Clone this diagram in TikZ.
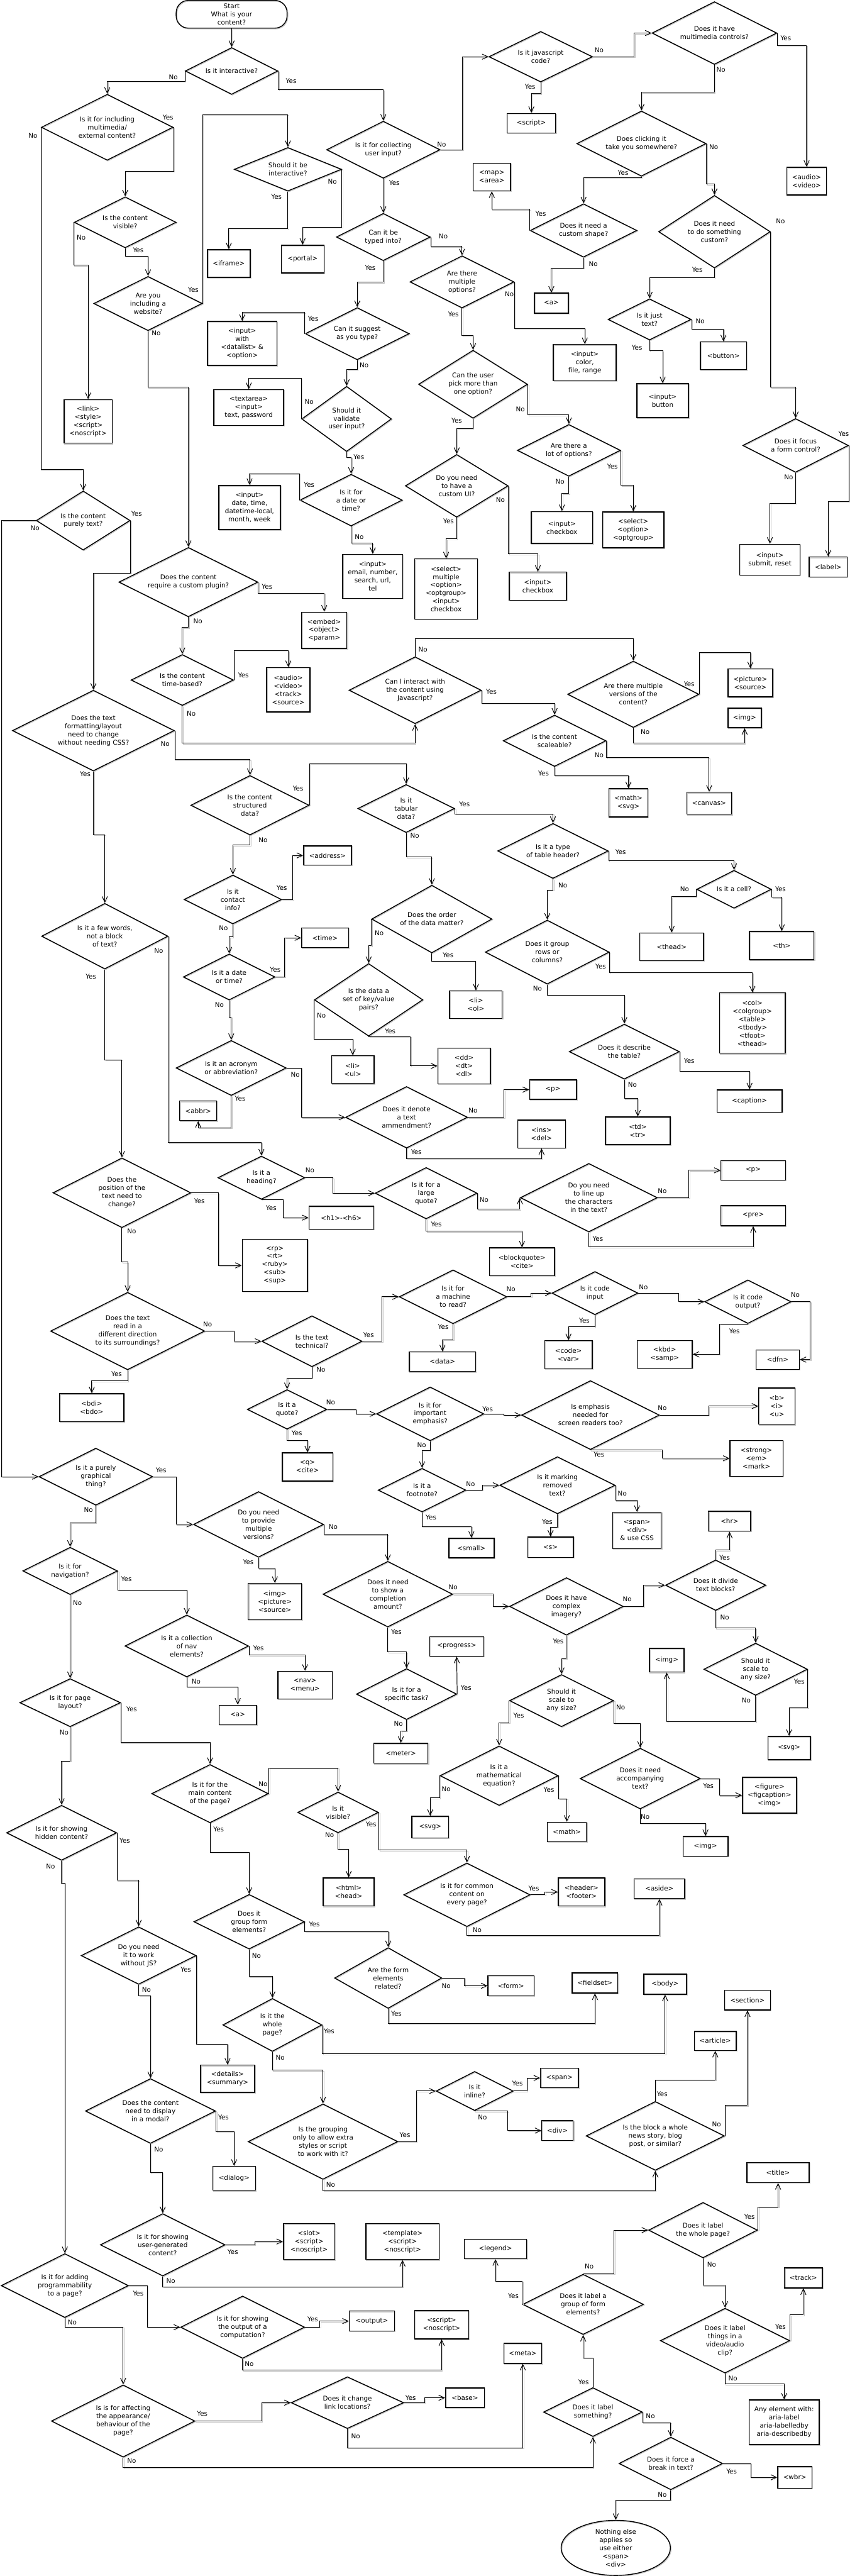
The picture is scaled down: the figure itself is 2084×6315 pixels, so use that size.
\documentclass[tikz,border=0pt]{standalone}
\usepackage{fontspec}
\setmainfont{DejaVu Sans}
\usepackage{tikz}
\usetikzlibrary{shapes.geometric}
\usetikzlibrary{arrows.meta}

\begin{document}
\begin{tikzpicture}[x=1pt, y=-1pt, every node/.style={font=\fontsize{16}{20}\selectfont},
	shade line/.style={preaction={draw, gray!45, transform canvas={shift={(1.8pt,-1.8pt)}}}},
	dia/.style 2 args={draw, diamond, aspect=2, inner sep=0pt, align=center, line width=2.2pt, shade line, minimum width=#1, minimum height=#2},
	box/.style 2 args={draw, rectangle, inner sep=2pt, align=center, line width=2.2pt, shade line, minimum width=#1, minimum height=#2},
	arr/.style={line width=1.5pt, shade line, -{Straight Barb[length=14pt, width=13pt]}},
	lbl/.style={inner sep=0pt}]
	\useasboundingbox (0,0) rectangle (2084,6315);

	\node[draw, rounded corners=30pt, minimum width=272, minimum height=68, inner sep=2pt, align=center, line width=2.2pt, shade line] (start) at (568,35) {Start\\What is your\\content?};
	\node[dia={227}{115}] (interactive) at (568,174) {Is it interactive?};
	\node[dia={323}{162}] (media) at (263,312) {Is it for including\\multimedia/\\external content?};
	\node[dia={250}{125}] (visible) at (307,545) {Is the content\\visible?};
	\node[dia={266}{133}] (website) at (363,744) {Are you\\including a\\website?};
	\node[dia={263}{107}] (shouldint) at (706,415) {Should it be\\interactive?};
	\node[dia={278}{140}] (collect) at (940,367) {Is it for collecting\\user input?};
	\node[dia={254}{124}] (jscode) at (1326,139) {Is it javascript\\code?};
	\node[dia={306}{154}] (controls) at (1752,81) {Does it have\\multimedia controls?};
	\node[dia={317}{160}] (click) at (1573,352) {Does clicking it\\take you somewhere?};
	\node[dia={262}{131}] (shape) at (1431,565) {Does it need a\\custom shape?};
	\node[dia={274}{178}] (custom) at (1752,568) {Does it need\\to do something\\custom?};
	\node[dia={230}{116}] (typed) at (940,581) {Can it be\\typed into?};
	\node[dia={255}{128}] (multi) at (1133,691) {Are there\\multiple\\options?};
	\node[dia={204}{101}] (justtext) at (1593,783) {Is it just\\text?};
	\node[dia={255}{128}] (suggest) at (876,818) {Can it suggest\\as you type?};
	\node[dia={220}{160}] (validate) at (850,1027) {Should it\\validate\\user input?};
	\node[dia={267}{167}] (pickmore) at (1160,942) {Can the user\\pick more than\\one option?};
	\node[dia={253}{127}] (lots) at (1395,1104) {Are there a\\lot of options?};
	\node[dia={259}{132}] (focus) at (1951,1092) {Does it focus\\a form control?};
	\node[dia={251}{127}] (datetime) at (861,1226) {Is it for\\a date or\\time?};
	\node[dia={252}{154}] (customui) at (1120,1191) {Do you need\\to have a\\custom UI?};
	\node[dia={230}{145}] (puretext) at (204,1276) {Is the content\\purely text?};
	\node[dia={341}{170}] (plugin) at (462,1427) {Does the content\\require a custom plugin?};
	\node[dia={251}{125}] (timebased) at (447,1667) {Is the content\\time-based?};
	\node[dia={324}{164}] (interact) at (1018,1692) {Can I interact with\\the content using\\Javascript?};
	\node[dia={322}{163}] (versions) at (1553,1702) {Are there multiple\\versions of the\\content?};
	\node[dia={252}{126}] (scale) at (1360,1816) {Is the content\\scaleable?};
	\node[dia={397}{198}] (format) at (229,1791) {Does the text\\formatting/layout\\need to change\\without needing CSS?};
	\node[dia={290}{146}] (structured) at (613,1974) {Is the content\\structured\\data?};
	\node[dia={237}{118}] (tabular) at (996,1982) {Is it\\tabular\\data?};
	\node[dia={271}{135}] (header) at (1356,2086) {Is it a type\\of table header?};
	\node[dia={183}{93}] (cell) at (1800,2180) {Is it a cell?};
	\node[dia={304}{157}] (group) at (1342,2334) {Does it group\\rows or\\columns?};
	\node[dia={270}{135}] (describe) at (1531,2578) {Does it describe\\the table?};
	\node[dia={295}{166}] (order) at (1059,2253) {Does the order\\of the data matter?};
	\node[dia={266}{178}] (keyvalue) at (904,2451) {Is the data a\\set of key/value\\pairs?};
	\node[dia={239}{120}] (contact) at (571,2205) {Is it\\contact\\info?};
	\node[dia={225}{113}] (date2) at (562,2395) {Is it a date\\or time?};
	\node[dia={310}{161}] (fewwords) at (257,2295) {Is it a few words,\\not a block\\of text?};
	\node[dia={270}{135}] (acronym) at (567,2618) {Is it an acronym\\or abbreviation?};
	\node[dia={299}{151}] (amend) at (997,2739) {Does it denote\\a text\\ammendment?};
	\node[dia={213}{106}] (heading) at (641,2887) {Is it a\\heading?};
	\node[dia={250}{126}] (largequote) at (1045,2925) {Is it for a\\large\\quote?};
	\node[dia={336}{168}] (lineup) at (1444,2936) {Do you need\\to line up\\the characters\\in the text?};
	\node[dia={338}{171}] (position) at (299,2924) {Does the\\position of the\\text need to\\change?};
	\node[dia={378}{190}] (direction) at (313,3263) {Does the text\\read in a\\different direction\\to its surroundings?};
	\node[dia={246}{125}] (technical) at (765,3288) {Is the text\\technical?};
	\node[dia={264}{132}] (machine) at (1111,3179) {Is it for\\a machine\\to read?};
	\node[dia={211}{106}] (codein) at (1459,3170) {Is it code\\input};
	\node[dia={212}{107}] (codeout) at (1834,3191) {Is it code\\output?};
	\node[dia={195}{97}] (isquote) at (704,3455) {Is it a\\quote?};
	\node[dia={263}{132}] (emph) at (1055,3466) {Is it for\\important\\emphasis?};
	\node[dia={338}{169}] (screen) at (1448,3469) {Is emphasis\\needed for\\screen readers too?};
	\node[dia={279}{140}] (graphical) at (235,3620) {Is it a purely\\graphical\\thing?};
	\node[dia={215}{107}] (footnote) at (1035,3653) {Is it a\\footnote?};
	\node[dia={283}{140}] (removed) at (1367,3641) {Is it marking\\removed\\text?};
	\node[dia={319}{161}] (provide) at (634,3737) {Do you need\\to provide\\multiple\\versions?};
	\node[dia={318}{161}] (completion) at (951,3908) {Does it need\\to show a\\completion\\amount?};
	\node[dia={246}{125}] (task) at (997,4153) {Is it for a\\specific task?};
	\node[dia={279}{141}] (complex) at (1389,3938) {Does it have\\complex\\imagery?};
	\node[dia={246}{124}] (divide) at (1755,3886) {Does it divide\\text blocks?};
	\node[dia={254}{128}] (scaleR) at (1853,4092) {Should it\\scale to\\any size?};
	\node[dia={255}{128}] (scaleL) at (1377,4169) {Should it\\scale to\\any size?};
	\node[dia={232}{116}] (nav) at (172,3851) {Is it for\\navigation?};
	\node[dia={303}{152}] (navcoll) at (458,4035) {Is it a collection\\of nav\\elements?};
	\node[dia={247}{118}] (layout) at (172,4174) {Is it for page\\layout?};
	\node[dia={286}{143}] (main) at (515,4397) {Is it for the\\main content\\of the page?};
	\node[dia={198}{100}] (isvisible) at (829,4443) {Is it\\visible?};
	\node[dia={310}{156}] (common) at (1145,4645) {Is it for common\\content on\\every page?};
	\node[dia={290}{146}] (matheq) at (1224,4353) {Is it a\\mathematical\\equation?};
	\node[dia={295}{149}] (accomp) at (1570,4360) {Does it need\\accompanying\\text?};
	\node[dia={270}{135}] (hidden) at (151,4493) {Is it for showing\\hidden content?};
	\node[dia={271}{134}] (formgrp) at (611,4711) {Does it\\group form\\elements?};
	\node[dia={263}{149}] (related) at (952,4849) {Are the form\\elements\\related?};
	\node[dia={243}{130}] (wholepage) at (668,4964) {Is it the\\whole\\page?};
	\node[dia={282}{141}] (nojs) at (340,4794) {Do you need\\it to work\\without JS?};
	\node[dia={319}{159}] (modal) at (369,5175) {Does the content\\need to display\\in a modal?};
	\node[dia={189}{96}] (inline) at (1164,5126) {Is it\\inline?};
	\node[dia={339}{169}] (article) at (1607,5236) {Is the block a whole\\news story, blog\\post, or similar?};
	\node[dia={367}{185}] (grouping) at (792,5250) {Is the grouping\\only to allow extra\\styles or script\\to work with it?};
	\node[dia={306}{153}] (ugc) at (399,5503) {Is it for showing\\user-generated\\content?};
	\node[dia={267}{136}] (labelpage) at (1724,5467) {Does it label\\the whole page?};
	\node[dia={296}{148}] (labelgroup) at (1430,5649) {Does it label a\\group of form\\elements?};
	\node[dia={317}{159}] (labelclip) at (1778,5738) {Does it label\\things in a\\video/audio\\clip?};
	\node[dia={312}{157}] (program) at (159,5603) {Is it for adding\\programmability\\to a page?};
	\node[dia={304}{153}] (output) at (595,5705) {Is it for showing\\the output of a\\computation?};
	\node[dia={352}{177}] (affect) at (302,5935) {Is is for affecting\\the appearance/\\behaviour of the\\page?};
	\node[dia={276}{127}] (link) at (852,5890) {Does it change\\link locations?};
	\node[dia={242}{120}] (labelsth) at (1454,5913) {Does it label\\something?};
	\node[dia={254}{129}] (forcebreak) at (1645,6039) {Does it force a\\break in text?};
	\node[draw, ellipse, inner sep=0pt, align=center, line width=2.2pt, shade line, minimum width=268, minimum height=135] (finish) at (1510,6246) {Nothing else\\applies so\\use either\\<span>\\<div>};

	\node[box={119}{48}] (b_script) at (1303,302) {<script>};
	\node[box={97}{68}] (b_audio) at (1978,444) {<audio>\\<video>};
	\node[box={92}{68}] (b_map) at (1206,434) {<map>\\<area>};
	\node[box={118}{107}] (b_link) at (216,1033) {<link>\\<style>\\<script>\\<noscript>};
	\node[box={105}{68}] (b_iframe) at (561,646) {<iframe>};
	\node[box={105}{68}] (b_portal) at (742,635) {<portal>};
	\node[box={83}{49}] (b_a) at (1352,743) {<a>};
	\node[box={113}{68}] (b_button) at (1774,872) {<button>};
	\node[box={127}{83}] (b_inbutton) at (1625,982) {<input>\\button};
	\node[box={154}{89}] (b_color) at (1434,889) {<input>\\color,\\file, range};
	\node[box={170}{108}] (b_datalist) at (594,842) {<input>\\with\\<datalist> \&\\<option>};
	\node[box={171}{88}] (b_textarea) at (610,999) {<textarea>\\<input>\\text, password};
	\node[box={151}{78}] (b_check1) at (1378,1293) {<input>\\checkbox};
	\node[box={150}{88}] (b_select) at (1553,1299) {<select>\\<option>\\<optgroup>};
	\node[box={148}{76}] (b_submit) at (1888,1372) {<input>\\submit, reset};
	\node[box={93}{49}] (b_label) at (2031,1390) {<label>};
	\node[box={151}{108}] (b_date) at (612,1244) {<input>\\date, time,\\datetime-local,\\month, week};
	\node[box={147}{108}] (b_email) at (914,1413) {<input>\\email, number,\\search, url,\\tel};
	\node[box={154}{148}] (b_multiple) at (1094,1444) {<select>\\multiple\\<option>\\<optgroup>\\<input>\\checkbox};
	\node[box={140}{69}] (b_check2) at (1319,1437) {<input>\\checkbox};
	\node[box={111}{89}] (b_embed) at (795,1545) {<embed>\\<object>\\<param>};
	\node[box={106}{109}] (b_avts) at (707,1691) {<audio>\\<video>\\<track>\\<source>};
	\node[box={109}{69}] (b_picture) at (1840,1674) {<picture>\\<source>};
	\node[box={82}{48}] (b_img1) at (1826,1760) {<img>};
	\node[box={95}{69}] (b_mathsvg) at (1541,1968) {<math>\\<svg>};
	\node[box={110}{54}] (b_canvas) at (1739,1969) {<canvas>};
	\node[box={117}{47}] (b_address) at (803,2097) {<address>};
	\node[box={157}{68}] (b_thead) at (1647,2321) {<thead>};
	\node[box={158}{69}] (b_th) at (1917,2318) {<th>};
	\node[box={161}{148}] (b_col) at (1845,2508) {<col>\\<colgroup>\\<table>\\<tbody>\\<tfoot>\\<thead>};
	\node[box={129}{68}] (b_ol) at (1167,2463) {<li>\\<ol>};
	\node[box={104}{68}] (b_ul) at (865,2622) {<li>\\<ul>};
	\node[box={129}{88}] (b_dl) at (1138,2613) {<dd>\\<dt>\\<dl>};
	\node[box={115}{48}] (b_time) at (797,2299) {<time>};
	\node[box={91}{48}] (b_abbr) at (486,2723) {<abbr>};
	\node[box={115}{48}] (b_p1) at (1356,2671) {<p>};
	\node[box={117}{68}] (b_insdel) at (1328,2780) {<ins>\\<del>};
	\node[box={160}{55}] (b_caption) at (1838,2699) {<caption>};
	\node[box={159}{68}] (b_tdtr) at (1564,2772) {<td>\\<tr>};
	\node[box={159}{56}] (b_hn) at (837,2985) {<h1>-<h6>};
	\node[box={158}{48}] (b_p2) at (1847,2869) {<p>};
	\node[box={158}{49}] (b_pre) at (1847,2980) {<pre>};
	\node[box={160}{68}] (b_blockquote) at (1280,3093) {<blockquote>\\<cite>};
	\node[box={160}{128}] (b_ruby) at (674,3102) {<rp>\\<rt>\\<ruby>\\<sub>\\<sup>};
	\node[box={158}{69}] (b_bdi) at (225,3451) {<bdi>\\<bdo>};
	\node[box={163}{48}] (b_data) at (1085,3338) {<data>};
	\node[box={117}{69}] (b_code) at (1394,3321) {<code>\\<var>};
	\node[box={135}{68}] (b_kbd) at (1630,3320) {<kbd>\\<samp>};
	\node[box={106}{48}] (b_dfn) at (1907,3333) {<dfn>};
	\node[box={124}{69}] (b_q) at (754,3596) {<q>\\<cite>};
	\node[box={89}{89}] (b_biu) at (1905,3447) {<b>\\<i>\\<u>};
	\node[box={130}{88}] (b_strong) at (1855,3575) {<strong>\\<em>\\<mark>};
	\node[box={111}{48}] (b_small) at (1156,3795) {<small>};
	\node[box={112}{50}] (b_s) at (1350,3793) {<s>};
	\node[box={119}{89}] (b_spandiv) at (1562,3752) {<span>\\<div>\\\& use CSS};
	\node[box={131}{89}] (b_imgpic) at (674,3926) {<img>\\<picture>\\<source>};
	\node[box={133}{48}] (b_progress) at (1120,4036) {<progress>};
	\node[box={133}{49}] (b_meter) at (983,4298) {<meter>};
	\node[box={104}{49}] (b_hr) at (1789,3729) {<hr>};
	\node[box={85}{58}] (b_img2) at (1635,4070) {<img>};
	\node[box={104}{57}] (b_svg2) at (1935,4285) {<svg>};
	\node[box={133}{68}] (b_nav) at (748,4131) {<nav>\\<menu>};
	\node[box={92}{48}] (b_a2) at (583,4204) {<a>};
	\node[box={125}{69}] (b_html) at (855,4638) {<html>\\<head>};
	\node[box={114}{69}] (b_header) at (1426,4638) {<header>\\<footer>};
	\node[box={124}{48}] (b_aside) at (1617,4630) {<aside>};
	\node[box={90}{53}] (b_svg3) at (1055,4479) {<svg>};
	\node[box={96}{48}] (b_math2) at (1390,4491) {<math>};
	\node[box={133}{88}] (b_figure) at (1887,4401) {<figure>\\<figcaption>\\<img>};
	\node[box={110}{48}] (b_img3) at (1730,4526) {<img>};
	\node[box={113}{49}] (b_form) at (1253,4868) {<form>};
	\node[box={112}{49}] (b_fieldset) at (1459,4861) {<fieldset>};
	\node[box={105}{49}] (b_body) at (1631,4864) {<body>};
	\node[box={112}{49}] (b_section) at (1833,4903) {<section>};
	\node[box={103}{47}] (b_article) at (1754,5003) {<article>};
	\node[box={133}{67}] (b_details) at (558,5096) {<details>\\<summary>};
	\node[box={93}{48}] (b_span2) at (1372,5094) {<span>};
	\node[box={77}{48}] (b_div2) at (1367,5223) {<div>};
	\node[box={105}{59}] (b_dialog) at (574,5340) {<dialog>};
	\node[box={153}{49}] (b_title) at (1908,5326) {<title>};
	\node[box={126}{88}] (b_slot) at (758,5495) {<slot>\\<script>\\<noscript>};
	\node[box={180}{88}] (b_template) at (987,5495) {<template>\\<script>\\<noscript>};
	\node[box={153}{48}] (b_legend) at (1215,5513) {<legend>};
	\node[box={93}{49}] (b_track) at (1970,5584) {<track>};
	\node[box={111}{49}] (b_output) at (912,5690) {<output>};
	\node[box={133}{69}] (b_script2) at (1083,5699) {<script>\\<noscript>};
	\node[box={93}{49}] (b_meta) at (1282,5769) {<meta>};
	\node[box={95}{48}] (b_base) at (1140,5878) {<base>};
	\node[box={172}{109}] (b_aria) at (1923,5938) {Any element with:\\aria-label\\aria-labelledby\\aria-describedby};
	\node[box={84}{53}] (b_wbr) at (1949,6073) {<wbr>};

	\draw[arr] (start) -- (interactive);
	\draw[arr] (interactive.west) -- (interactive.west |- 0,199) -| (media.north);
	\node[lbl] (n_interactive) at (425,190) {No};
	\draw[arr] (interactive.east) -- (interactive.east |- 0,220) -| (collect.north);
	\node[lbl] (y_interactive) at (714,199) {Yes};
	\draw[arr] (media.east) -- (media.east |- 0,420) -| (visible.north);
	\node[lbl] (y_media) at (412,288) {Yes};
	\draw[arr] (media.west) -- (media.west |- 0,1151) -| (puretext.north);
	\node[lbl] (n_media) at (81,332) {No};
	\draw[arr] (visible.west) -- (visible.west |- 0,650) -| (b_link.north);
	\node[lbl] (n_visible) at (199,582) {No};
	\draw[arr] (visible.south) -- (visible.south |- 0,628) -| (website.north);
	\node[lbl] (y_visible) at (339,614) {Yes};
	\draw[arr] (website.east) -- (website.east |- 0,281) -| (shouldint.north);
	\node[lbl] (y_website) at (474,711) {Yes};
	\draw[arr] (website.south) -- (website.south |- 0,949) -| (plugin.north);
	\node[lbl] (n_website) at (383,817) {No};
	\draw[arr] (shouldint.south) -- (shouldint.south |- 0,561) -| (b_iframe.north);
	\node[lbl] (y_shouldint) at (678,482) {Yes};
	\draw[arr] (shouldint.east) -- (shouldint.east |- 0,557) -| (b_portal.north);
	\node[lbl] (n_shouldint) at (815,446) {No};
	\draw[arr] (collect.east) -- (collect.east -| 1134,0) |- (jscode.west);
	\node[lbl] (n_collect) at (1083,355) {No};
	\draw[arr] (collect) -- (typed);
	\node[lbl] (y_collect) at (967,448) {Yes};
	\draw[arr] (jscode.east) -- (jscode.east -| 1555,0) |- (controls.west);
	\node[lbl] (n_jscode) at (1469,123) {No};
	\draw[arr] (jscode.south) -- (jscode.south |- 0,229) -| (b_script.north);
	\node[lbl] (y_jscode) at (1300,212) {Yes};
	\draw[arr] (controls.east) -- (controls.east |- 0,111) -| (b_audio.north);
	\node[lbl] (y_controls) at (1927,93) {Yes};
	\draw[arr] (controls.south) -- (controls.south |- 0,226) -| (click.north);
	\node[lbl] (n_controls) at (1768,171) {No};
	\draw[arr] (click.south) -- (click.south |- 0,435) -| (shape.north);
	\node[lbl] (y_click) at (1528,424) {Yes};
	\draw[arr] (click.east) -- (click.east |- 0,451) -| (custom.north);
	\node[lbl] (n_click) at (1750,361) {No};
	\draw[arr] (shape.west) -- (shape.west |- 0,513) -| (b_map.south);
	\node[lbl] (y_shape) at (1326,524) {Yes};
	\draw[arr] (shape.south) -- (shape.south |- 0,657) -| (b_a.north);
	\node[lbl] (n_shape) at (1455,647) {No};
	\draw[arr] (custom.south) -- (custom.south |- 0,681) -| (justtext.north);
	\node[lbl] (y_custom) at (1710,661) {Yes};
	\draw[arr] (custom.east) -- (custom.east |- 0,949) -| (focus.north);
	\node[lbl] (n_custom) at (1914,543) {No};
	\draw[arr] (typed.east) -- (typed.east |- 0,604) -| (multi.north);
	\node[lbl] (n_typed) at (1087,579) {No};
	\draw[arr] (typed.south) -- (typed.south |- 0,692) -| (suggest.north);
	\node[lbl] (y_typed) at (908,656) {Yes};
	\draw[arr] (multi.east) -- (multi.east |- 0,805) -| (b_color.north);
	\node[lbl] (n_multi) at (1249,721) {No};
	\draw[arr] (multi.south) -- (multi.south |- 0,823) -| (pickmore.north);
	\node[lbl] (y_multi) at (1112,770) {Yes};
	\draw[arr] (justtext.east) -- (justtext.east |- 0,807) -| (b_button.north);
	\node[lbl] (n_justtext) at (1717,787) {No};
	\draw[arr] (justtext.south) -- (justtext.south |- 0,860) -| (b_inbutton.north);
	\node[lbl] (y_justtext) at (1562,853) {Yes};
	\draw[arr] (suggest.west) -- (suggest.west |- 0,766) -| (b_datalist.north);
	\node[lbl] (y_suggest) at (768,781) {Yes};
	\draw[arr] (suggest.south) -- (suggest.south |- 0,906) -| (validate.north);
	\node[lbl] (n_suggest) at (893,896) {No};
	\draw[arr] (validate.west) -- (validate.west |- 0,927) -| (b_textarea.north);
	\node[lbl] (n_validate) at (758,985) {No};
	\draw[arr] (validate.south) -- (validate.south |- 0,1121) -| (datetime.north);
	\node[lbl] (y_validate) at (880,1121) {Yes};
	\draw[arr] (pickmore.east) -- (pickmore.east |- 0,1017) -| (lots.north);
	\node[lbl] (n_pickmore) at (1276,1004) {No};
	\draw[arr] (pickmore.south) -- (pickmore.south |- 0,1050) -| (customui.north);
	\node[lbl] (y_pickmore) at (1120,1031) {Yes};
	\draw[arr] (lots.south) -- (lots.south |- 0,1210) -| (b_check1.north);
	\node[lbl] (n_lots) at (1373,1181) {No};
	\draw[arr] (lots.east) -- (lots.east |- 0,1190) -| (b_select.north);
	\node[lbl] (y_lots) at (1502,1143) {Yes};
	\draw[arr] (focus.east) -- (focus.east |- 0,1229) -| (b_label.north);
	\node[lbl] (y_focus) at (2069,1063) {Yes};
	\draw[arr] (focus.south) -- (focus.south |- 0,1234) -| (b_submit.north);
	\node[lbl] (n_focus) at (1934,1170) {No};
	\draw[arr] (datetime.west) -- (datetime.west |- 0,1161) -| (b_date.north);
	\node[lbl] (y_datetime) at (758,1189) {Yes};
	\draw[arr] (datetime.south) -- (datetime.south |- 0,1332) -| (b_email.north);
	\node[lbl] (n_datetime) at (881,1317) {No};
	\draw[arr] (customui.east) -- (customui.east |- 0,1358) -| (b_check2.north);
	\node[lbl] (n_customui) at (1227,1226) {No};
	\draw[arr] (customui.south) -- (customui.south |- 0,1321) -| (b_multiple.north);
	\node[lbl] (y_customui) at (1100,1278) {Yes};
	\draw[arr] (puretext.east) -- (puretext.east |- 0,1405) -| (format.north);
	\node[lbl] (y_puretext) at (335,1259) {Yes};
	\draw[arr] (puretext.west) -- (puretext.west -| 4,0) |- (graphical.west);
	\node[lbl] (n_puretext) at (86,1294) {No};
	\draw[arr] (plugin.east) -- (plugin.east |- 0,1454) -| (b_embed.north);
	\node[lbl] (y_plugin) at (655,1438) {Yes};
	\draw[arr] (plugin.south) -- (plugin.south |- 0,1538) -| (timebased.north);
	\node[lbl] (n_plugin) at (485,1523) {No};
	\draw[arr] (timebased.east) -- (timebased.east |- 0,1595) -| (b_avts.north);
	\node[lbl] (y_timebased) at (597,1656) {Yes};
	\draw[arr] (timebased.south) -- (timebased.south |- 0,1822) -| (interact.south);
	\node[lbl] (n_timebased) at (469,1750) {No};
	\draw[arr] (interact.north) -- (interact.north |- 0,1566) -| (versions.north);
	\node[lbl] (n_interact) at (1037,1592) {No};
	\draw[arr] (interact.east) -- (interact.east |- 0,1724) -| (scale.north);
	\node[lbl] (y_interact) at (1205,1695) {Yes};
	\draw[arr] (versions.east) -- (versions.east |- 0,1600) -| (b_picture.north);
	\node[lbl] (y_versions) at (1690,1677) {Yes};
	\draw[arr] (versions.south) -- (versions.south |- 0,1822) -| (b_img1.south);
	\node[lbl] (n_versions) at (1582,1794) {No};
	\draw[arr] (scale.south) -- (scale.south |- 0,1901) -| (b_mathsvg.north);
	\node[lbl] (y_scale) at (1333,1896) {Yes};
	\draw[arr] (scale.east) -- (scale.east |- 0,1857) -| (b_canvas.north);
	\node[lbl] (n_scale) at (1469,1851) {No};
	\draw[arr] (format.south) -- (format.south |- 0,2046) -| (fewwords.north);
	\node[lbl] (y_format) at (209,1898) {Yes};
	\draw[arr] (format.east) -- (format.east |- 0,1862) -| (structured.north);
	\node[lbl] (n_format) at (405,1824) {No};
	\draw[arr] (structured.east) -- (structured.east |- 0,1872) -| (tabular.north);
	\node[lbl] (y_structured) at (731,1933) {Yes};
	\draw[arr] (structured.south) -- (structured.south |- 0,2072) -| (contact.north);
	\node[lbl] (n_structured) at (645,2060) {No};
	\draw[arr] (tabular.east) -- (tabular.east |- 0,1995) -| (header.north);
	\node[lbl] (y_tabular) at (1139,1971) {Yes};
	\draw[arr] (tabular.south) -- (tabular.south |- 0,2101) -| (order.north);
	\node[lbl] (n_tabular) at (1017,2049) {No};
	\draw[arr] (header.east) -- (header.east |- 0,2110) -| (cell.north);
	\node[lbl] (y_header) at (1522,2089) {Yes};
	\draw[arr] (header.south) -- (header.south |- 0,2182) -| (group.north);
	\node[lbl] (n_header) at (1380,2170) {No};
	\draw[arr] (cell.west) -- (cell.west |- 0,2198) -| (b_thead.north);
	\node[lbl] (n_cell) at (1679,2180) {No};
	\draw[arr] (cell.east) -- (cell.east |- 0,2200) -| (b_th.north);
	\node[lbl] (y_cell) at (1914,2179) {Yes};
	\draw[arr] (group.east) -- (group.east |- 0,2385) -| (b_col.north);
	\node[lbl] (y_group) at (1473,2369) {Yes};
	\draw[arr] (group.south) -- (group.south |- 0,2439) -| (describe.north);
	\node[lbl] (n_group) at (1318,2424) {No};
	\draw[arr] (describe.east) -- (describe.east |- 0,2626) -| (b_caption.north);
	\node[lbl] (y_describe) at (1690,2601) {Yes};
	\draw[arr] (describe.south) -- (describe.south |- 0,2693) -| (b_tdtr.north);
	\node[lbl] (n_describe) at (1551,2659) {No};
	\draw[arr] (order.west) -- (order.west |- 0,2318) -| (keyvalue.north);
	\node[lbl] (n_order) at (930,2287) {No};
	\draw[arr] (order.south) -- (order.south |- 0,2356) -| (b_ol.north);
	\node[lbl] (y_order) at (1099,2341) {Yes};
	\draw[arr] (keyvalue.west) -- (keyvalue.west |- 0,2547) -| (b_ul.north);
	\node[lbl] (n_keyvalue) at (788,2489) {No};
	\draw[arr] (keyvalue.south) -- (keyvalue.south -| 1006,0) |- (b_dl.west);
	\node[lbl] (y_keyvalue) at (957,2528) {Yes};
	\draw[arr] (contact.east) -- (contact.east -| 718,0) |- (b_address.west);
	\node[lbl] (y_contact) at (691,2177) {Yes};
	\draw[arr] (contact.south) -- (contact.south |- 0,2297) -| (date2.north);
	\node[lbl] (n_contact) at (548,2276) {No};
	\draw[arr] (date2.east) -- (date2.east -| 698,0) |- (b_time.west);
	\node[lbl] (y_date2) at (675,2377) {Yes};
	\draw[arr] (date2.south) -- (date2.south |- 0,2493) -| (acronym.north);
	\node[lbl] (n_date2) at (538,2463) {No};
	\draw[arr] (fewwords.south) -- (fewwords.south |- 0,2598) -| (position.north);
	\node[lbl] (y_fewwords) at (223,2394) {Yes};
	\draw[arr] (fewwords.east) -- (fewwords.east |- 0,2801) -| (heading.north);
	\node[lbl] (n_fewwords) at (389,2330) {No};
	\draw[arr] (acronym.east) -- (acronym.east -| 740,0) |- (amend.west);
	\node[lbl] (n_acronym) at (724,2634) {No};
	\draw[arr] (acronym.south) -- (acronym.south |- 0,2765) -| (b_abbr.south);
	\node[lbl] (y_acronym) at (589,2693) {Yes};
	\draw[arr] (amend.east) -- (amend.east -| 1236,0) |- (b_p1.west);
	\node[lbl] (n_amend) at (1160,2723) {No};
	\draw[arr] (amend.south) -- (amend.south |- 0,2840) -| (b_insdel.south);
	\node[lbl] (y_amend) at (1021,2824) {Yes};
	\draw[arr] (heading.east) -- (heading.east -| 817,0) |- (largequote.west);
	\node[lbl] (n_heading) at (760,2869) {No};
	\draw[arr] (heading.south) -- (heading.south -| 694,0) |- (b_hn.west);
	\node[lbl] (y_heading) at (665,2962) {Yes};
	\draw[arr] (largequote.east) -- (largequote.east |- 0,2964) -| (lineup.west);
	\node[lbl] (n_largequote) at (1187,2941) {No};
	\draw[arr] (largequote.south) -- (largequote.south |- 0,3018) -| (b_blockquote.north);
	\node[lbl] (y_largequote) at (1070,3001) {Yes};
	\draw[arr] (lineup.east) -- (lineup.east -| 1689,0) |- (b_p2.west);
	\node[lbl] (n_lineup) at (1624,2919) {No};
	\draw[arr] (lineup.south) -- (lineup.south |- 0,3057) -| (b_pre.south);
	\node[lbl] (y_lineup) at (1466,3037) {Yes};
	\draw[arr] (position.east) -- (position.east -| 536,0) |- (b_ruby.west);
	\node[lbl] (y_position) at (489,2945) {Yes};
	\draw[arr] (position.south) -- (position.south |- 0,3094) -| (direction.north);
	\node[lbl] (n_position) at (323,3019) {No};
	\draw[arr] (direction.east) -- (direction.east -| 574,0) |- (technical.west);
	\node[lbl] (n_direction) at (509,3246) {No};
	\draw[arr] (direction.south) -- (direction.south |- 0,3385) -| (b_bdi.north);
	\node[lbl] (y_direction) at (286,3369) {Yes};
	\draw[arr] (technical.east) -- (technical.east -| 937,0) |- (machine.west);
	\node[lbl] (y_technical) at (904,3273) {Yes};
	\draw[arr] (technical.south) -- (technical.south |- 0,3378) -| (isquote.north);
	\node[lbl] (n_technical) at (787,3358) {No};
	\draw[arr] (machine.south) -- (machine.south |- 0,3284) -| (b_data.north);
	\node[lbl] (y_machine) at (1087,3253) {Yes};
	\draw[arr] (machine.east) -- (machine.east -| 1302,0) |- (codein.west);
	\node[lbl] (n_machine) at (1253,3160) {No};
	\draw[arr] (codein.south) -- (codein.south |- 0,3253) -| (b_code.north);
	\node[lbl] (y_codein) at (1433,3237) {Yes};
	\draw[arr] (codein.east) -- (codein.east -| 1665,0) |- (codeout.west);
	\node[lbl] (n_codein) at (1578,3155) {No};
	\draw[arr] (codeout.south) -- (codeout.south -| 1765,0) |- (b_kbd.east);
	\node[lbl] (y_codeout) at (1801,3264) {Yes};
	\draw[arr] (codeout.east) -- (codeout.east -| 1987,0) |- (b_dfn.east);
	\node[lbl] (n_codeout) at (1950,3174) {No};
	\draw[arr] (isquote.east) -- (isquote.east -| 873,0) |- (emph.west);
	\node[lbl] (n_isquote) at (811,3437) {No};
	\draw[arr] (isquote.south) -- (isquote.south |- 0,3531) -| (b_q.north);
	\node[lbl] (y_isquote) at (728,3514) {Yes};
	\draw[arr] (emph.east) -- (emph.east -| 1236,0) |- (screen.west);
	\node[lbl] (y_emph) at (1196,3454) {Yes};
	\draw[arr] (emph.south) -- (emph.south |- 0,3556) -| (footnote.north);
	\node[lbl] (n_emph) at (1034,3542) {No};
	\draw[arr] (screen.east) -- (screen.east -| 1738,0) |- (b_biu.west);
	\node[lbl] (n_screen) at (1624,3451) {No};
	\draw[arr] (screen.south) -- (screen.south -| 1624,0) |- (b_strong.west);
	\node[lbl] (y_screen) at (1469,3565) {Yes};
	\draw[arr] (graphical.east) -- (graphical.east -| 432,0) |- (provide.west);
	\node[lbl] (y_graphical) at (395,3605) {Yes};
	\draw[arr] (graphical.south) -- (graphical.south |- 0,3733) -| (nav.north);
	\node[lbl] (n_graphical) at (217,3701) {No};
	\draw[arr] (footnote.east) -- (footnote.east -| 1183,0) |- (removed.west);
	\node[lbl] (n_footnote) at (1154,3638) {No};
	\draw[arr] (footnote.south) -- (footnote.south |- 0,3742) -| (b_small.north);
	\node[lbl] (y_footnote) at (1057,3720) {Yes};
	\draw[arr] (removed.east) -- (removed.east |- 0,3678) -| (b_spandiv.north);
	\node[lbl] (n_removed) at (1526,3662) {No};
	\draw[arr] (removed.south) -- (removed.south |- 0,3744) -| (b_s.north);
	\node[lbl] (y_removed) at (1342,3730) {Yes};
	\draw[arr] (provide.south) -- (provide.south |- 0,3845) -| (b_imgpic.north);
	\node[lbl] (y_provide) at (609,3829) {Yes};
	\draw[arr] (provide.east) -- (provide.east |- 0,3761) -| (completion.north);
	\node[lbl] (n_provide) at (817,3743) {No};
	\draw[arr] (completion.east) -- (completion.east -| 1209,0) |- (complex.west);
	\node[lbl] (n_completion) at (1111,3891) {No};
	\draw[arr] (completion.south) -- (completion.south |- 0,4050) -| (task.north);
	\node[lbl] (y_completion) at (972,4001) {Yes};
	\draw[arr] (task.east) -- (b_progress.south);
	\node[lbl] (y_task) at (1143,4137) {Yes};
	\draw[arr] (task.south) -- (task.south |- 0,4243) -| (b_meter.north);
	\node[lbl] (n_task) at (977,4225) {No};
	\draw[arr] (complex.east) -- (complex.east -| 1578,0) |- (divide.west);
	\node[lbl] (n_complex) at (1538,3920) {No};
	\draw[arr] (complex.south) -- (complex.south |- 0,4066) -| (scaleL.north);
	\node[lbl] (y_complex) at (1369,4024) {Yes};
	\draw[arr] (divide.north) -- (divide.north |- 0,3800) -| (b_hr.south);
	\node[lbl] (y_divide) at (1777,3818) {Yes};
	\draw[arr] (divide.south) -- (divide.south |- 0,3991) -| (scaleR.north);
	\node[lbl] (n_divide) at (1777,3965) {No};
	\draw[arr] (scaleR.east) -- (scaleR.east |- 0,4186) -| (b_svg2.north);
	\node[lbl] (y_scaleR) at (1960,4122) {Yes};
	\draw[arr] (scaleR.south) -- (scaleR.south |- 0,4221) -| (b_img2.south);
	\node[lbl] (n_scaleR) at (1830,4169) {No};
	\draw[arr] (scaleL.west) -- (scaleL.west |- 0,4223) -| (matheq.north);
	\node[lbl] (y_scaleL) at (1272,4205) {Yes};
	\draw[arr] (scaleL.east) -- (scaleL.east |- 0,4225) -| (accomp.north);
	\node[lbl] (n_scaleL) at (1522,4185) {No};
	\draw[arr] (nav.east) -- (nav.east |- 0,3898) -| (navcoll.north);
	\node[lbl] (y_nav) at (310,3871) {Yes};
	\draw[arr] (nav) -- (layout);
	\node[lbl] (n_nav) at (190,3929) {No};
	\draw[arr] (navcoll.east) -- (navcoll.east |- 0,4057) -| (b_nav.north);
	\node[lbl] (y_navcoll) at (634,4040) {Yes};
	\draw[arr] (navcoll.south) -- (navcoll.south |- 0,4135) -| (b_a2.north);
	\node[lbl] (n_navcoll) at (481,4122) {No};
	\draw[arr] (layout.east) -- (layout.east |- 0,4272) -| (main.north);
	\node[lbl] (y_layout) at (323,4190) {Yes};
	\draw[arr] (layout.south) -- (layout.south |- 0,4317) -| (hidden.north);
	\node[lbl] (n_layout) at (157,4247) {No};
	\draw[arr] (main.east) -- (main.east |- 0,4334) -| (isvisible.north);
	\node[lbl] (n_main) at (645,4374) {No};
	\draw[arr] (main.south) -- (main.south |- 0,4541) -| (formgrp.north);
	\node[lbl] (y_main) at (536,4485) {Yes};
	\draw[arr] (isvisible.south) -- (isvisible.south |- 0,4533) -| (b_html.north);
	\node[lbl] (n_isvisible) at (808,4499) {No};
	\draw[arr] (isvisible.east) -- (isvisible.east |- 0,4535) -| (common.north);
	\node[lbl] (y_isvisible) at (910,4473) {Yes};
	\draw[arr] (common.east) -- (common.east -| 1336,0) |- (b_header.west);
	\node[lbl] (y_common) at (1309,4629) {Yes};
	\draw[arr] (common.south) -- (common.south |- 0,4745) -| (b_aside.south);
	\node[lbl] (n_common) at (1170,4731) {No};
	\draw[arr] (matheq.west) -- (matheq.west |- 0,4407) -| (b_svg3.north);
	\node[lbl] (n_matheq) at (1094,4386) {No};
	\draw[arr] (matheq.east) -- (matheq.east |- 0,4410) -| (b_math2.north);
	\node[lbl] (y_matheq) at (1346,4387) {Yes};
	\draw[arr] (accomp.east) -- (accomp.east -| 1764,0) |- (b_figure.west);
	\node[lbl] (y_accomp) at (1737,4378) {Yes};
	\draw[arr] (accomp.south) -- (accomp.south |- 0,4470) -| (b_img3.north);
	\node[lbl] (n_accomp) at (1582,4454) {No};
	\draw[arr] (hidden.east) -- (hidden.east |- 0,4609) -| (nojs.north);
	\node[lbl] (y_hidden) at (306,4512) {Yes};
	\draw[arr] (hidden.south) -- (hidden.south |- 0,4616) -| (program.north);
	\node[lbl] (n_hidden) at (124,4575) {No};
	\draw[arr] (formgrp.east) -- (formgrp.east |- 0,4735) -| (related.north);
	\node[lbl] (y_formgrp) at (771,4717) {Yes};
	\draw[arr] (formgrp.south) -- (formgrp.south |- 0,4845) -| (wholepage.north);
	\node[lbl] (n_formgrp) at (629,4795) {No};
	\draw[arr] (related.east) -- (related.east -| 1139,0) |- (b_form.west);
	\node[lbl] (n_related) at (1094,4868) {No};
	\draw[arr] (related.south) -- (related.south |- 0,4961) -| (b_fieldset.south);
	\node[lbl] (y_related) at (972,4937) {Yes};
	\draw[arr] (wholepage.east) -- (wholepage.east |- 0,5035) -| (b_body.south);
	\node[lbl] (y_wholepage) at (807,4979) {Yes};
	\draw[arr] (wholepage.south) -- (wholepage.south |- 0,5075) -| (grouping.north);
	\node[lbl] (n_wholepage) at (687,5044) {No};
	\draw[arr] (nojs.east) -- (nojs.east |- 0,5011) -| (b_details.north);
	\node[lbl] (y_nojs) at (456,4829) {Yes};
	\draw[arr] (nojs.south) -- (nojs.south |- 0,4892) -| (modal.north);
	\node[lbl] (n_nojs) at (359,4877) {No};
	\draw[arr] (modal.east) -- (modal.east |- 0,5225) -| (b_dialog.north);
	\node[lbl] (y_modal) at (548,5191) {Yes};
	\draw[arr] (modal.south) -- (modal.south |- 0,5326) -| (ugc.north);
	\node[lbl] (n_modal) at (389,5270) {No};
	\draw[arr] (grouping.east) -- (grouping.east -| 1021,0) |- (inline.west);
	\node[lbl] (y_grouping) at (993,5234) {Yes};
	\draw[arr] (grouping.south) -- (grouping.south |- 0,5370) -| (article.south);
	\node[lbl] (n_grouping) at (811,5355) {No};
	\draw[arr] (inline.east) -- (inline.east -| 1292,0) |- (b_span2.west);
	\node[lbl] (y_inline) at (1269,5107) {Yes};
	\draw[arr] (inline.south) -- (inline.south -| 1245,0) |- (b_div2.west);
	\node[lbl] (n_inline) at (1183,5190) {No};
	\draw[arr] (article.north) -- (article.north |- 0,5099) -| (b_article.south);
	\node[lbl] (y_article) at (1624,5133) {Yes};
	\draw[arr] (article.east) -- (article.east |- 0,5161) -| (b_section.south);
	\node[lbl] (n_article) at (1757,5208) {No};
	\draw[arr] (ugc.east) -- (ugc.east -| 625,0) |- (b_slot.west);
	\node[lbl] (y_ugc) at (571,5521) {Yes};
	\draw[arr] (ugc.south) -- (ugc.south |- 0,5606) -| (b_template.south);
	\node[lbl] (n_ugc) at (419,5592) {No};
	\draw[arr] (labelpage.east) -- (labelpage.east |- 0,5410) -| (b_title.south);
	\node[lbl] (y_labelpage) at (1838,5434) {Yes};
	\draw[arr] (labelpage.south) -- (labelpage.south |- 0,5602) -| (labelclip.north);
	\node[lbl] (n_labelpage) at (1745,5552) {No};
	\draw[arr] (labelgroup.west) -- (labelgroup.west |- 0,5592) -| (b_legend.south);
	\node[lbl] (y_labelgroup) at (1259,5629) {Yes};
	\draw[arr] (labelgroup.north) -- (labelgroup.north -| 1506,0) |- (labelpage.west);
	\node[lbl] (n_labelgroup) at (1445,5556) {No};
	\draw[arr] (labelclip.east) -- (labelclip.east |- 0,5675) -| (b_track.south);
	\node[lbl] (y_labelclip) at (1914,5704) {Yes};
	\draw[arr] (labelclip.south) -- (labelclip.south |- 0,5844) -| (b_aria.north);
	\node[lbl] (n_labelclip) at (1797,5831) {No};
	\draw[arr] (program.east) -- (program.east -| 361,0) |- (output.west);
	\node[lbl] (y_program) at (339,5622) {Yes};
	\draw[arr] (program.south) -- (program.south |- 0,5705) -| (affect.north);
	\node[lbl] (n_program) at (177,5694) {No};
	\draw[arr] (output.east) -- (output.east -| 784,0) |- (b_output.west);
	\node[lbl] (y_output) at (767,5686) {Yes};
	\draw[arr] (output.south) -- (output.south |- 0,5810) -| (b_script2.south);
	\node[lbl] (n_output) at (611,5795) {No};
	\draw[arr] (affect.east) -- (affect.east -| 642,0) |- (link.west);
	\node[lbl] (y_affect) at (496,5917) {Yes};
	\draw[arr] (affect.south) -- (affect.south |- 0,6049) -| (labelsth.south);
	\node[lbl] (n_affect) at (323,6032) {No};
	\draw[arr] (link.east) -- (link.east -| 1041,0) |- (b_base.west);
	\node[lbl] (y_link) at (1007,5878) {Yes};
	\draw[arr] (link.south) -- (link.south |- 0,6001) -| (b_meta.south);
	\node[lbl] (n_link) at (872,5972) {No};
	\draw[arr] (labelsth.north) -- (labelsth.north |- 0,5780) -| (labelgroup.south);
	\node[lbl] (y_labelsth) at (1431,5840) {Yes};
	\draw[arr] (labelsth.east) -- (labelsth.east |- 0,5939) -| (forcebreak.north);
	\node[lbl] (n_labelsth) at (1595,5923) {No};
	\draw[arr] (forcebreak.east) -- (forcebreak.east -| 1841,0) |- (b_wbr.west);
	\node[lbl] (y_forcebreak) at (1794,6058) {Yes};
	\draw[arr] (forcebreak.south) -- (forcebreak.south |- 0,6129) -| (finish.north);
	\node[lbl] (n_forcebreak) at (1624,6115) {No};
\end{tikzpicture}
\end{document}
